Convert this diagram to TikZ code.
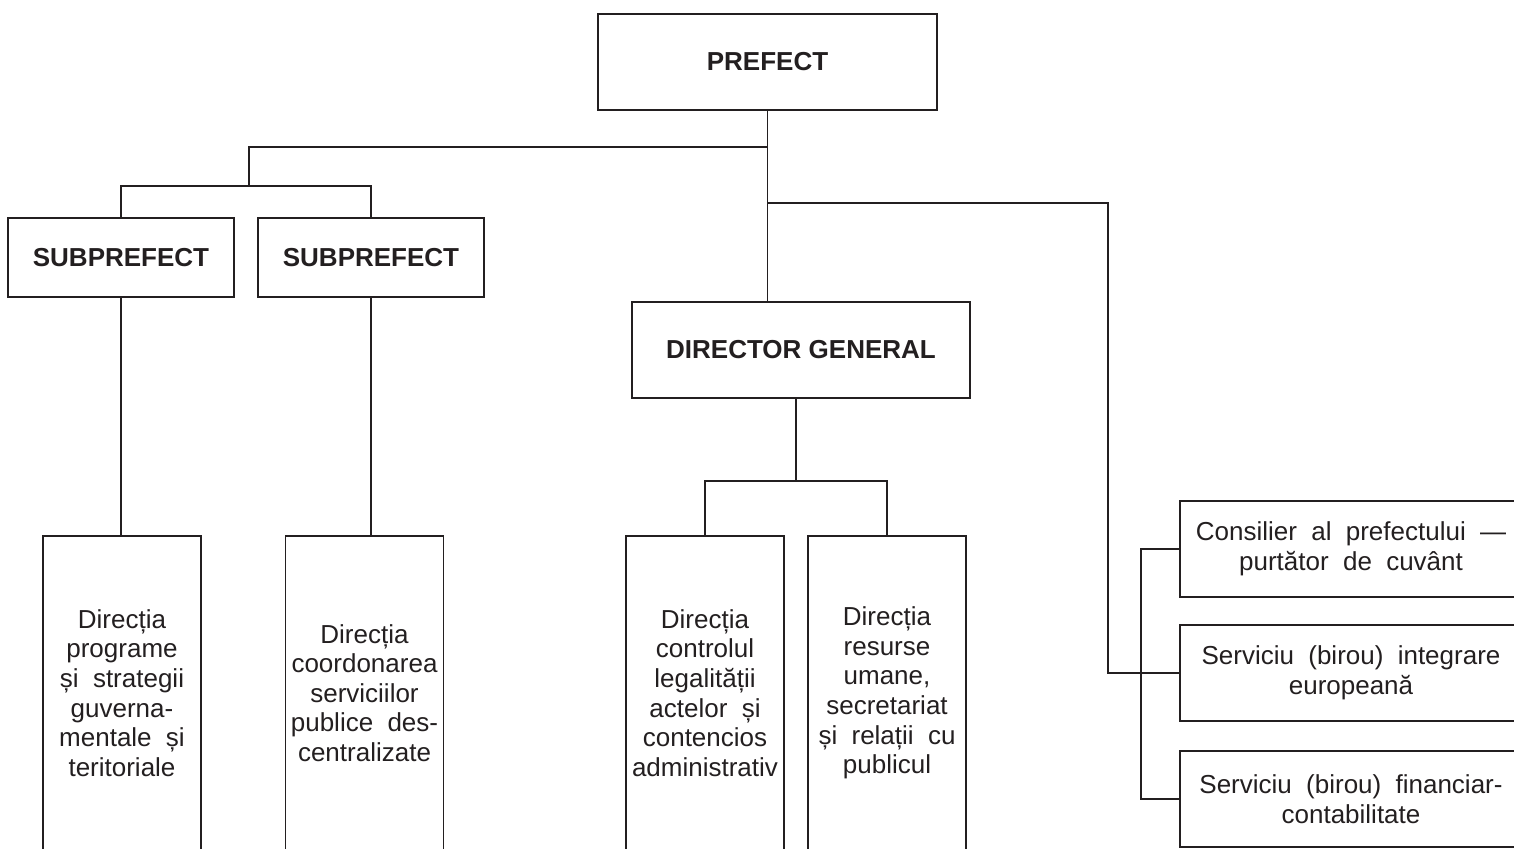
\documentclass[tikz,border=0pt]{standalone}
\usepackage{fontspec}
\setmainfont{Liberation Sans}
\usepackage{tikz}
\definecolor{ink}{HTML}{231F20}
\newcommand\widespace{\spaceskip=.55em\relax}

\begin{document}
\begin{tikzpicture}[x=0.5pt,y=-0.5pt,line width=0.9pt,color=ink,
  box/.style={draw,inner sep=0pt,align=center},
  chief/.style={box,font=\bfseries\fontsize{13}{15}\selectfont},
  dept/.style={box,text width=76pt,minimum width=79pt,minimum height=157pt,
    font=\fontsize{13}{14.8}\selectfont,execute at begin node=\widespace},
  serv/.style={box,text width=160pt,minimum width=171pt,minimum height=48pt,
    font=\fontsize{13}{14.8}\selectfont,execute at begin node=\widespace}]
\useasboundingbox (0,0) rectangle (1514,848);
\node[chief,minimum width=169.5pt,minimum height=48pt] (prefect) at (767.5,62) {PREFECT};
\node[chief,minimum width=113pt,minimum height=39.5pt] (subA) at (121,257.5) {SUBPREFECT};
\node[chief,minimum width=113pt,minimum height=39.5pt] (subB) at (371,257.5) {SUBPREFECT};
\node[chief,minimum width=169pt,minimum height=48pt] (dg) at (801,350) {DIRECTOR GENERAL};
\node[dept] (dirA) at (122,693) {Direcția\\programe\\și strategii\\guverna-\\mentale și\\teritoriale};
\node[dept] (dirB) at (364.5,693) {Direcția\\coordonarea\\serviciilor\\publice des-\\centralizate};
\node[dept] (dirC) at (705,693) {Direcția\\controlul\\legalității\\actelor și\\contencios\\administrativ};
\node[dept] (dirD) at (887,693) {Direcția\\resurse\\umane,\\secretariat\\și relații cu\\publicul};
\node[serv] (servA) at (1351,549) {Consilier al prefectului —\\purtător de cuvânt};
\node[serv] (servB) at (1351,673) {Serviciu (birou) integrare\\europeană};
\node[serv] (servC) at (1351,799) {Serviciu (birou) financiar-\\contabilitate};
% forks
\coordinate (leftfork) at (249,147);
\coordinate (subfork) at (249,186);
\coordinate (rightfork) at (1108,203);
\coordinate (dgfork) at (796,481);
\draw (prefect.south) -- (prefect.south |- dg.north);
\draw (prefect.south |- leftfork) -- (leftfork) -- (subfork);
\draw (subA.north) |- (subfork) -| (subB.north);
\draw (subA.south) -- (subA.south |- dirA.north);
\draw (subB.south) -- (subB.south |- dirB.north);
\draw (prefect.south |- rightfork) -- (rightfork) |- (servB.west);
\draw (servA.west) -- ++(-38,0) |- (servC.west);
\draw (dg.south -| dgfork) -- (dgfork);
\draw (dirC.north) |- (dgfork) -| (dirD.north);
\end{tikzpicture}
\end{document}
